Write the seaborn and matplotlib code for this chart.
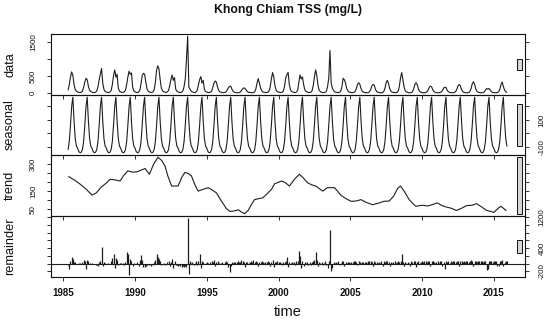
import numpy as np
import pandas as pd
import matplotlib
matplotlib.use("Agg")
import matplotlib.pyplot as plt
from matplotlib.patches import Rectangle
import seaborn as sns

# ---------------- data ----------------
title = "Khong Chiam TSS (mg/L)"
panel_names = ["data", "seasonal", "trend", "remainder"]
x_label = "time"
x_ticks = [1985, 1990, 1995, 2000, 2005, 2010, 2015]
start_year, start_month = 1985, 5

# monthly TSS (first row: May-Dec 1985, then Jan-Dec per year)
data_rows = [
    [100, 250, 480, 630, 520, 250, 110, 60],
    [40, 25, 20, 30, 60, 180, 330, 440, 400, 200, 90, 50],
    [35, 20, 20, 30, 70, 190, 400, 560, 730, 300, 110, 55],
    [35, 25, 20, 35, 80, 250, 520, 690, 470, 560, 150, 60],
    [40, 25, 25, 40, 90, 260, 480, 650, 560, 600, 170, 70],
    [40, 25, 20, 35, 90, 280, 520, 590, 560, 330, 130, 60],
    [40, 25, 25, 35, 100, 320, 680, 810, 720, 400, 150, 70],
    [45, 30, 25, 40, 80, 230, 400, 540, 380, 460, 120, 60],
    [40, 25, 20, 30, 70, 200, 420, 1000, 1680, 180, 120, 60],
    [40, 25, 20, 35, 90, 250, 400, 490, 300, 380, 110, 50],
    [35, 20, 20, 30, 60, 170, 300, 360, 330, 180, 80, 40],
    [30, 20, 15, 25, 40, 90, 160, 200, 210, 120, 60, 30],
    [25, 15, 15, 20, 35, 80, 130, 160, 140, 90, 50, 25],
    [25, 15, 15, 20, 40, 120, 300, 430, 300, 150, 70, 35],
    [30, 20, 20, 30, 60, 180, 420, 610, 480, 220, 90, 45],
    [35, 25, 20, 30, 70, 200, 450, 550, 610, 260, 100, 50],
    [35, 25, 20, 35, 90, 330, 540, 420, 480, 250, 100, 50],
    [35, 25, 20, 30, 70, 230, 480, 690, 520, 230, 90, 45],
    [30, 20, 20, 30, 60, 200, 450, 1260, 300, 150, 80, 40],
    [30, 20, 20, 30, 60, 190, 440, 400, 300, 140, 70, 35],
    [25, 20, 15, 25, 50, 130, 260, 310, 260, 130, 60, 30],
    [25, 15, 15, 20, 45, 110, 210, 260, 240, 120, 55, 30],
    [25, 15, 15, 20, 50, 150, 320, 380, 280, 130, 60, 30],
    [25, 20, 15, 25, 60, 200, 450, 610, 400, 180, 70, 35],
    [25, 15, 15, 20, 45, 130, 260, 310, 250, 120, 55, 30],
    [20, 15, 15, 20, 40, 90, 170, 210, 190, 100, 50, 25],
    [20, 15, 15, 20, 40, 80, 150, 180, 170, 90, 45, 25],
    [20, 15, 15, 20, 45, 110, 210, 260, 220, 110, 50, 25],
    [20, 15, 15, 20, 50, 140, 280, 340, 260, 120, 55, 30],
    [20, 15, 15, 20, 40, 90, 140, 120, 140, 90, 45, 25],
    [20, 15, 15, 20, 45, 110, 250, 330, 200, 90, 45, 25],
]

# periodic seasonal component, Jan..Dec
seasonal_cycle = [-110, -135, -144, -140, -120, -60, 60, 200, 268, 90, -40, -95]

# trend component, read at points along the curve
trend_years = [1985.37, 1985.8, 1986.2, 1986.6, 1987.0, 1987.3, 1987.6, 1988.0, 1988.26,
               1988.6, 1988.96, 1989.2, 1989.5, 1989.8, 1990.1, 1990.4, 1990.7, 1991.0,
               1991.3, 1991.6, 1991.85, 1992.08, 1992.3, 1992.55, 1993.0, 1993.25,
               1993.47, 1993.7, 1993.93, 1994.2, 1994.4, 1994.75, 1995.1, 1995.4,
               1995.66, 1996.1, 1996.35, 1996.6, 1996.9, 1997.2, 1997.4, 1997.64,
               1997.9, 1998.1, 1998.33, 1998.6, 1998.9, 1999.2, 1999.5, 1999.72,
               2000.2, 2000.5, 2000.76, 2001.1, 2001.46, 2001.7, 2002.0, 2002.3,
               2002.6, 2003.08, 2003.4, 2003.9, 2004.36, 2004.7, 2005.05, 2005.4,
               2005.74, 2006.1, 2006.55, 2006.9, 2007.36, 2007.7, 2008.0, 2008.3,
               2008.5, 2008.75, 2009.1, 2009.56, 2010.0, 2010.4, 2010.7, 2011.06,
               2011.4, 2011.7, 2012.05, 2012.4, 2012.75, 2013.1, 2013.5, 2013.8,
               2014.2, 2014.5, 2014.8, 2015.0, 2015.3, 2015.5, 2015.86]
trend_values = [230, 210, 187, 160, 128, 140, 169, 195, 215,
                212, 206, 235, 262, 255, 256, 265, 275, 243,
                300, 337, 320, 290, 230, 178, 178, 225,
                253, 248, 234, 180, 150, 160, 169, 155,
                141, 85, 55, 38, 40, 47, 35, 25,
                45, 75, 103, 108, 113, 135, 159, 190,
                206, 195, 178, 215, 243, 225, 197, 185,
                178, 150, 169, 169, 126, 108, 94, 95,
                103, 88, 75, 82, 94, 95, 120, 165,
                178, 150, 103, 66, 72, 68, 75, 85,
                70, 62, 55, 43, 55, 70, 72, 81,
                60, 43, 38, 32, 55, 66, 43]

# monthly remainder (same layout as data_rows)
remainder_rows = [
    [-40, -130, 60, 165, 120, 50, 30, -20],
    [-20, 10, 20, -10, 40, 100, 60, -140, 80, 60, 20, -10],
    [20, 0, -10, -30, -40, -70, 40, 60, 435, -60, 40, 20],
    [-10, 20, -20, 0, 60, 150, 235, -110, 150, 80, -40, 20],
    [20, -20, 10, -40, 40, 300, 250, -290, 130, 60, -60, 20],
    [0, -20, 40, -60, 80, 220, 100, -80, -90, -70, -50, 0],
    [-40, -60, -20, -50, 40, 100, 250, 165, 120, 60, -40, -20],
    [20, -40, -20, 40, 70, -60, 40, 120, -110, 60, -40, -50],
    [-60, -50, -70, -80, -60, -90, -70, -80, 1175, -270, 60, 20],
    [40, -40, 20, 60, -40, 70, 235, -110, 70, 40, -20, 20],
    [40, 20, -20, 50, 70, 40, 100, -60, 50, 70, 20, -20],
    [20, 40, -20, 50, 70, 40, -100, -220, -70, 40, 20, 40],
    [50, 40, 70, 50, 40, 80, 70, 50, -90, 40, 50, 20],
    [40, 70, 50, 80, 50, 70, 50, -70, 40, 50, 70, 40],
    [20, 50, 40, 70, 50, -70, 50, 100, -80, 40, 50, 70],
    [40, 50, 20, -50, 50, 40, 60, 175, -100, 40, 20, 50],
    [20, 40, -40, 70, 60, 320, 190, -110, 60, -60, 40, 20],
    [50, -40, 40, -50, 40, 70, 100, 295, 105, -70, 40, 20],
    [40, -50, 20, 70, -40, -110, 60, 860, -200, -110, 40, 20],
    [40, 20, 60, -40, 20, 70, 60, -60, 40, 20, 50, 40],
    [20, 50, 40, 60, 70, 40, -40, 60, 40, 20, 50, 40],
    [50, 40, 20, 60, 70, 60, 40, -70, 60, 40, 50, 20],
    [40, 20, 60, -60, 60, 40, 70, 60, 40, -60, 40, 20],
    [40, 60, 20, 40, 60, 40, 60, 235, 40, -60, 50, 20],
    [40, 20, -60, 60, 40, 70, 60, -100, 40, 60, 20, 40],
    [60, 40, 70, 60, 40, 70, 60, -60, 70, 60, 40, 20],
    [40, 60, 20, 60, 70, -60, 40, -140, 60, 40, 60, 20],
    [60, 40, 70, 60, 40, 60, 70, -70, 60, 70, 40, 60],
    [40, 60, 70, 40, 60, 90, 70, -60, 70, 60, 40, 70],
    [60, 70, 60, 40, 70, 60, -180, -150, 70, 60, 70, 40],
    [60, 70, 60, -70, -60, 70, 60, 90, -60, 40, 60, 70],
]

y_ticks = {
    "data": [0, 500, 1000, 1500],
    "seasonal": [-100, 0, 100, 200],
    "trend": [50, 100, 150, 200, 250, 300],
    "remainder": [-200, 0, 200, 400, 600, 800, 1000, 1200],
}
y_ticks_labelled = {
    "data": [0, 500, 1500],
    "seasonal": [-100, 100],
    "trend": [50, 150, 300],
    "remainder": [-200, 400, 1200],
}

# ---------------- build series ----------------
data_flat = np.array([v for row in data_rows for v in row], dtype=float)
rem_flat = np.array([v for row in remainder_rows for v in row], dtype=float)
n = len(data_flat)
t = start_year + (start_month - 1) / 12 + np.arange(n) / 12
month_idx = (start_month - 1 + np.arange(n)) % 12
seas_flat = np.array(seasonal_cycle, dtype=float)[month_idx]

df_data = pd.DataFrame({"time": t, "value": data_flat})
df_seas = pd.DataFrame({"time": t, "value": seas_flat})
df_trend = pd.DataFrame({"time": trend_years, "value": trend_values})
df_rem = pd.DataFrame({"time": t, "value": rem_flat})

# ---------------- style ----------------
sns.set_theme(style="white")
plt.rcParams['font.family'] = ['Liberation Sans', 'DejaVu Sans']
plt.rcParams['axes.linewidth'] = 0.8
plt.rcParams['axes.edgecolor'] = '#111111'

W, H = 550, 323
fig = plt.figure(figsize=(W / 100, H / 100), dpi=100)
left_px, right_px = 51, 524.5
tops = [34, 95, 155, 216]
bottoms = [95, 155, 216, 277]
xlim = (1984.143, 2017.14)
line_col = '#1e1e1e'

frames = [df_data, df_seas, df_trend, df_rem]
ranges = []
for f in frames:
    lo, hi = f["value"].min(), f["value"].max()
    ranges.append((lo, hi))
bar_len = min(hi - lo for lo, hi in ranges)

axes = []
for i, (name, f) in enumerate(zip(panel_names, frames)):
    ax = fig.add_axes([left_px / W, 1 - bottoms[i] / H,
                       (right_px - left_px) / W, (bottoms[i] - tops[i]) / H])
    ax.set_facecolor('none')
    lo, hi = ranges[i]
    pad = 0.04 * (hi - lo)
    ylim = (lo - pad, hi + pad)
    if name == "remainder":
        ax.vlines(f["time"], 0, f["value"], color=line_col, lw=0.9)
        ax.axhline(0, color=line_col, lw=0.8)
    else:
        sns.lineplot(data=f, x="time", y="value", ax=ax, color=line_col,
                     lw=0.8, estimator=None, sort=False)
    ax.set_xlim(*xlim)
    ax.set_ylim(*ylim)
    # range bar
    dx = (xlim[1] - xlim[0]) / 64
    mid = (ylim[0] + ylim[1]) / 2
    ax.add_patch(Rectangle((xlim[1] - dx, mid - bar_len / 2), 0.6 * dx, bar_len,
                           facecolor='#d6d6d6', edgecolor='#111111', lw=0.7))
    for s in ax.spines.values():
        s.set_visible(True)
        s.set_color('#111111')
        s.set_linewidth(0.8)
    right_side = (i % 2 == 1)
    ax.set_yticks(y_ticks[name])
    ax.set_yticklabels([str(v) if v in y_ticks_labelled[name] else ""
                        for v in y_ticks[name]])
    ax.tick_params(axis='y', left=True, right=True, labelleft=not right_side,
                   labelright=right_side, direction='out', length=3, width=0.6,
                   pad=7, labelsize=5.8, labelrotation=90, colors='#111111')
    for lab in ax.get_yticklabels():
        lab.set_va('center')
    ax.set_xticks(x_ticks)
    ax.tick_params(axis='x', bottom=True, top=False, direction='out', length=3,
                   width=0.6, labelbottom=(i == 3), pad=5, labelsize=7,
                   colors='#111111')
    for lab in ax.get_xticklabels():
        lab.set_fontweight('bold')
    ax.set_xlabel("")
    ax.set_ylabel(name, fontsize=9.2, color='#111111')
    ax.yaxis.set_label_coords((16 - left_px) / (right_px - left_px), 0.5)
    axes.append(ax)

axes[-1].set_xlabel(x_label, fontsize=10.5, color='#111111')
axes[-1].xaxis.set_label_coords(0.5, -(305 - 277) / (277 - 216))
fig.text(((left_px + right_px) / 2) / W, 1 - 10 / H, title, ha='center', va='center',
         fontsize=8.8, fontweight='bold', color='#111111')

fig.savefig("out.png", dpi=100)
